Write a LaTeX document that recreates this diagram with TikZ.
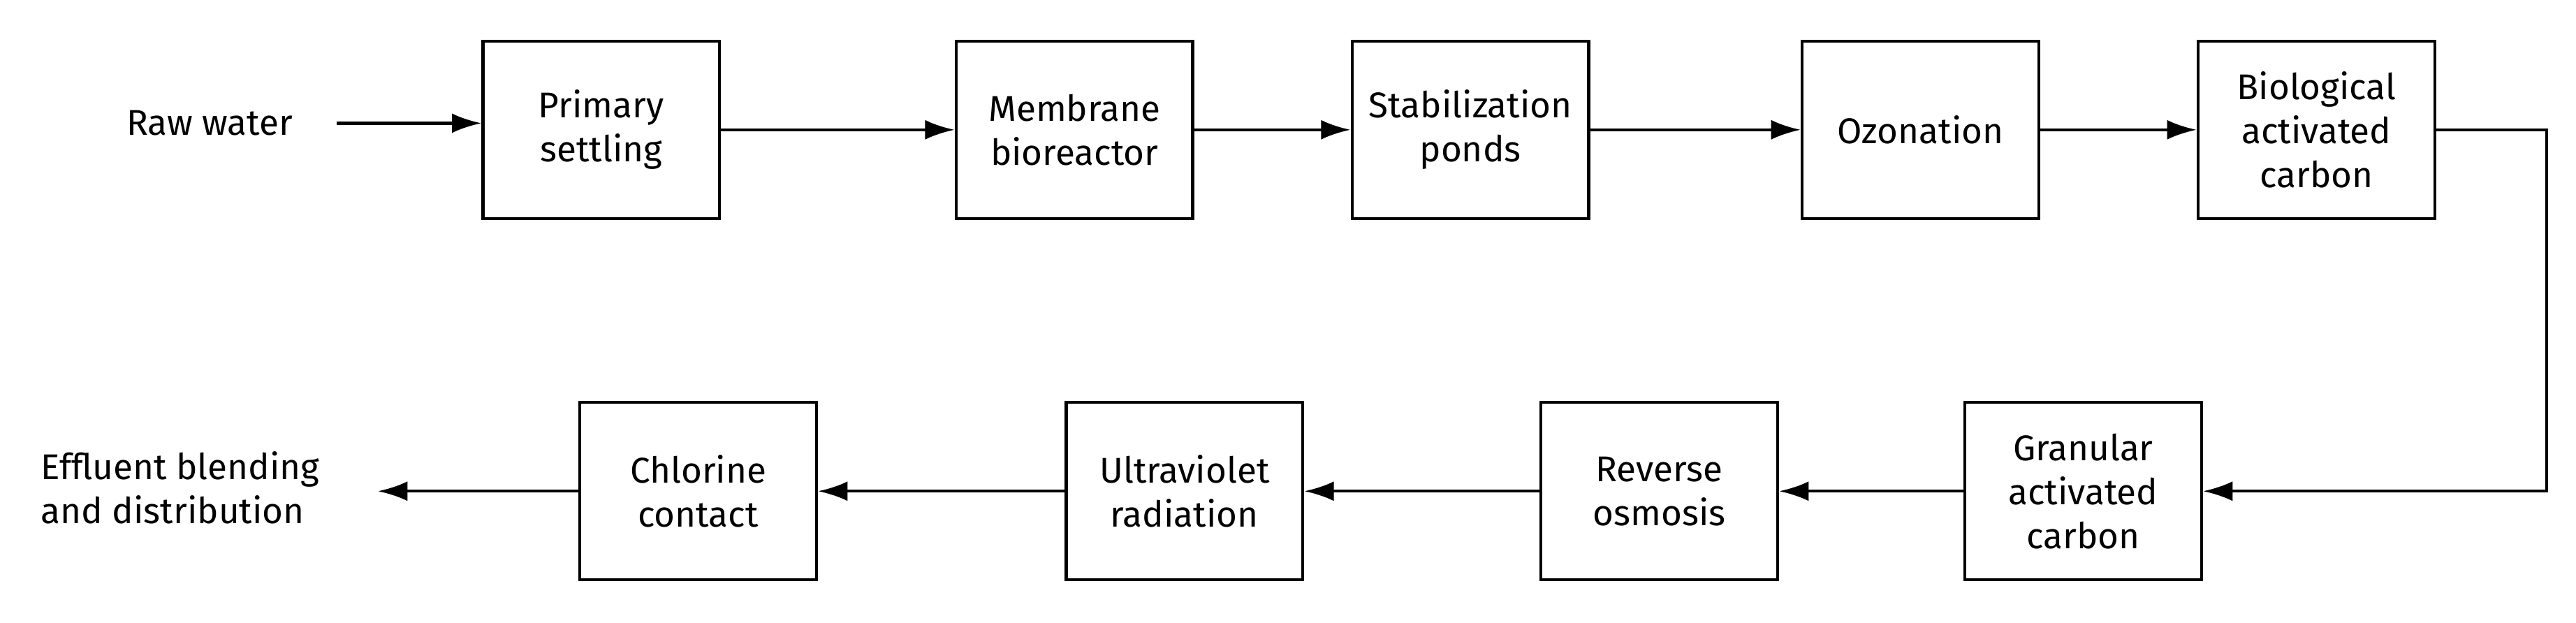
\documentclass[tikz,border=0pt]{standalone}
\usepackage{fontspec}
\setmainfont{Fira Sans}
\usetikzlibrary{arrows.meta}
\begin{document}
\begin{tikzpicture}[x=0.25mm,y=-0.25mm,
  box/.style={draw,line width=1.3pt,minimum width=36mm,minimum height=27mm,align=center,font=\fontsize{15.5}{19}\selectfont},
  lbl/.style={align=left,font=\fontsize{15.5}{19}\selectfont},
  arr/.style={line width=1.3pt,-{Latex[length=4.5mm,width=3mm]}}]
\useasboundingbox (0,0) rectangle (1568,379);
\node[box] (ps) at (366,79) {Primary\\settling};
\node[box] (mb) at (654,79) {Membrane\\bioreactor};
\node[box] (sp) at (895,79) {Stabilization\\ponds};
\node[box] (oz) at (1169,79) {Ozonation};
\node[box] (bac) at (1410,79) {Biological\\activated\\carbon};
\node[box] (gac) at (1268,299) {Granular\\activated\\carbon};
\node[box] (ro) at (1010,299) {Reverse\\osmosis};
\node[box] (uv) at (721,299) {Ultraviolet\\radiation};
\node[box] (cc) at (425,299) {Chlorine\\contact};
\node[lbl,anchor=west] (rw) at (72,75) {Raw water};
\node[lbl,anchor=west] (ef) at (20,297) {Effluent blending\\and distribution};
\coordinate (rws) at (205,75);
\coordinate (efe) at (230,299);
\coordinate (c1) at (1550,79);
\coordinate (c2) at (1550,299);
\draw[arr] (rws) -- (rws -| ps.west);
\draw[arr] (ps) -- (mb);
\draw[arr] (mb) -- (sp);
\draw[arr] (sp) -- (oz);
\draw[arr] (oz) -- (bac);
\draw[arr] (bac.east) -- (c1) -- (c2) -- (gac.east);
\draw[arr] (gac) -- (ro);
\draw[arr] (ro) -- (uv);
\draw[arr] (uv) -- (cc);
\draw[arr] (cc.west) -- (efe);
\end{tikzpicture}
\end{document}
